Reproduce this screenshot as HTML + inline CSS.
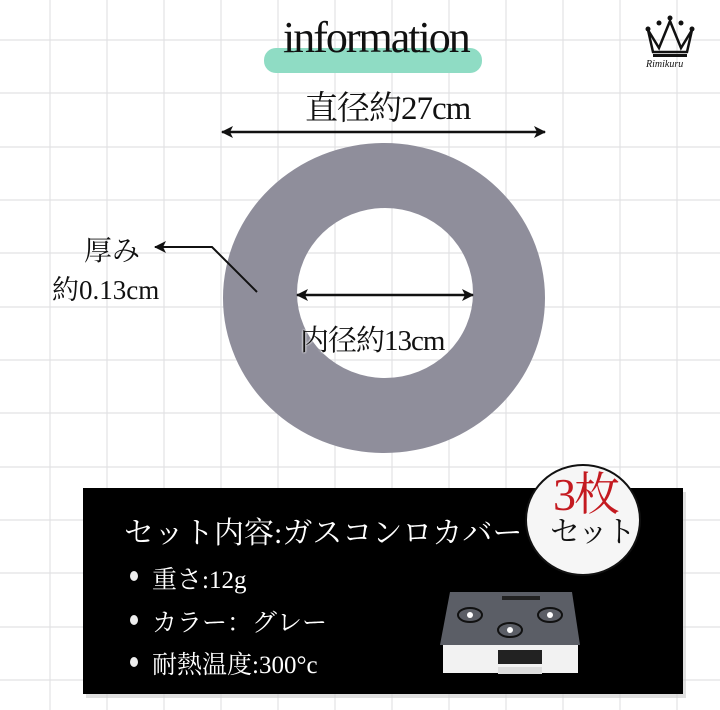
<!DOCTYPE html>
<html><head><meta charset="utf-8"><style>
body{margin:0;width:720px;height:710px;overflow:hidden;background:#fff;position:relative;font-family:"Liberation Serif","Noto Serif CJK SC",serif}
.t{position:absolute;white-space:nowrap;color:#111}
</style></head><body>
<svg width="720" height="710" style="position:absolute;left:0;top:0">
<defs><marker id="a" markerWidth="12" markerHeight="12" refX="11" refY="6" orient="auto" markerUnits="userSpaceOnUse"><path d="M0,0 L12,6 L0,12 L3,6 Z" fill="#111"/></marker>
<marker id="b" markerWidth="12" markerHeight="12" refX="1" refY="6" orient="auto" markerUnits="userSpaceOnUse"><path d="M12,0 L0,6 L12,12 L9,6 Z" fill="#111"/></marker></defs>
<g stroke="#e2e2e4" stroke-width="1.2">
<line x1="50" y1="0" x2="50" y2="710"/><line x1="107" y1="0" x2="107" y2="710"/><line x1="164" y1="0" x2="164" y2="710"/><line x1="221" y1="0" x2="221" y2="710"/><line x1="278" y1="0" x2="278" y2="710"/><line x1="335" y1="0" x2="335" y2="710"/><line x1="392" y1="0" x2="392" y2="710"/><line x1="449" y1="0" x2="449" y2="710"/><line x1="506" y1="0" x2="506" y2="710"/><line x1="563" y1="0" x2="563" y2="710"/><line x1="620" y1="0" x2="620" y2="710"/><line x1="677" y1="0" x2="677" y2="710"/>
<line x1="0" y1="40" x2="720" y2="40"/><line x1="0" y1="93" x2="720" y2="93"/><line x1="0" y1="147" x2="720" y2="147"/><line x1="0" y1="200" x2="720" y2="200"/><line x1="0" y1="253" x2="720" y2="253"/><line x1="0" y1="307" x2="720" y2="307"/><line x1="0" y1="360" x2="720" y2="360"/><line x1="0" y1="413" x2="720" y2="413"/><line x1="0" y1="467" x2="720" y2="467"/><line x1="0" y1="520" x2="720" y2="520"/><line x1="0" y1="573" x2="720" y2="573"/><line x1="0" y1="627" x2="720" y2="627"/><line x1="0" y1="680" x2="720" y2="680"/>
</g>
<rect x="264" y="48" width="218" height="25" rx="12" fill="#8fdcc4"/>
<path fill-rule="evenodd" fill="#8f8e9b" d="M223,298 a161,155 0 1,0 322,0 a161,155 0 1,0 -322,0 Z M297,293 a88,85 0 1,0 176,0 a88,85 0 1,0 -176,0 Z"/>
<line x1="222" y1="132" x2="545" y2="132" stroke="#111" stroke-width="2.5" marker-start="url(#b)" marker-end="url(#a)"/>
<line x1="297" y1="295" x2="473" y2="295" stroke="#111" stroke-width="2.5" marker-start="url(#b)" marker-end="url(#a)"/>
<polyline points="257,292 212,247 155,247" fill="none" stroke="#111" stroke-width="2" marker-end="url(#a)"/>
<rect x="86" y="492" width="600" height="206" fill="#ccc" opacity=".6"/>
<rect x="83" y="488" width="600" height="206" fill="#000"/>
<ellipse cx="583" cy="520" rx="57" ry="55" fill="#f6f6f6" stroke="#111" stroke-width="2"/>
<g fill="#eee"><ellipse cx="134" cy="576" rx="4" ry="5"/><ellipse cx="134" cy="620" rx="4" ry="5"/><ellipse cx="134" cy="662" rx="4" ry="5"/></g>
<rect x="443" y="645" width="135" height="28" fill="#f2f2f2"/>
<rect x="498" y="650" width="44" height="14" fill="#222"/>
<rect x="498" y="667" width="44" height="7" fill="#ddd"/>
<path d="M450,592 L572,592 L580,645 L440,645 Z" fill="#5b5e66"/>
<rect x="502" y="596" width="38" height="4" fill="#222"/>
<g fill="none" stroke="#111" stroke-width="2"><ellipse cx="470" cy="615" rx="12" ry="7"/><ellipse cx="550" cy="615" rx="12" ry="7"/><ellipse cx="510" cy="630" rx="12" ry="7"/></g>
<g fill="#fff"><circle cx="470" cy="615" r="3"/><circle cx="550" cy="615" r="3"/><circle cx="510" cy="630" r="3"/></g>
<g transform="translate(645,15)"><path d="M3,15 L14,33 L25,6 L36,33 L47,15 L42,37 L8,37 Z" fill="none" stroke="#111" stroke-width="2.5"/><rect x="8" y="39" width="34" height="3" fill="#111"/><circle cx="3" cy="14" r="2.5" fill="#111"/><circle cx="14" cy="8" r="2.5" fill="#111"/><circle cx="25" cy="3" r="2.5" fill="#111"/><circle cx="36" cy="8" r="2.5" fill="#111"/><circle cx="47" cy="14" r="2.5" fill="#111"/></g>
</svg>
<div class="t" style="left:283px;top:12px;font-size:44px;letter-spacing:-2px">information</div>
<div class="t" style="left:646px;top:59px;font-size:10px;font-style:italic">Rimikuru</div>
<div class="t" style="left:305px;top:82px;font-size:33px;letter-spacing:-1px">直径約27cm</div>
<div class="t" style="left:84px;top:229px;font-size:28px">厚み</div>
<div class="t" style="left:52px;top:268px;font-size:27px">約0.13cm</div>
<div class="t" style="left:300px;top:318px;font-size:29px;letter-spacing:-1px;text-shadow:0 0 2px #fff,0 0 2px #fff">内径約13cm</div>
<div class="t" style="left:124px;top:508px;font-size:30px;color:#fff">セット内容:ガスコンロカバー</div>
<div class="t" style="left:152px;top:560px;font-size:25px;color:#fff">重さ:12g</div>
<div class="t" style="left:152px;top:603px;font-size:25px;color:#fff">カラー：グレー</div>
<div class="t" style="left:152px;top:645px;font-size:25px;color:#fff">耐熱温度:300°c</div>
<div class="t" style="left:553px;top:472px;font-size:46px;color:#c41a20;line-height:1;letter-spacing:-2px">3枚</div>
<div class="t" style="left:550px;top:518px;font-size:30px;line-height:1;letter-spacing:-2px">セット</div>
</body></html>
